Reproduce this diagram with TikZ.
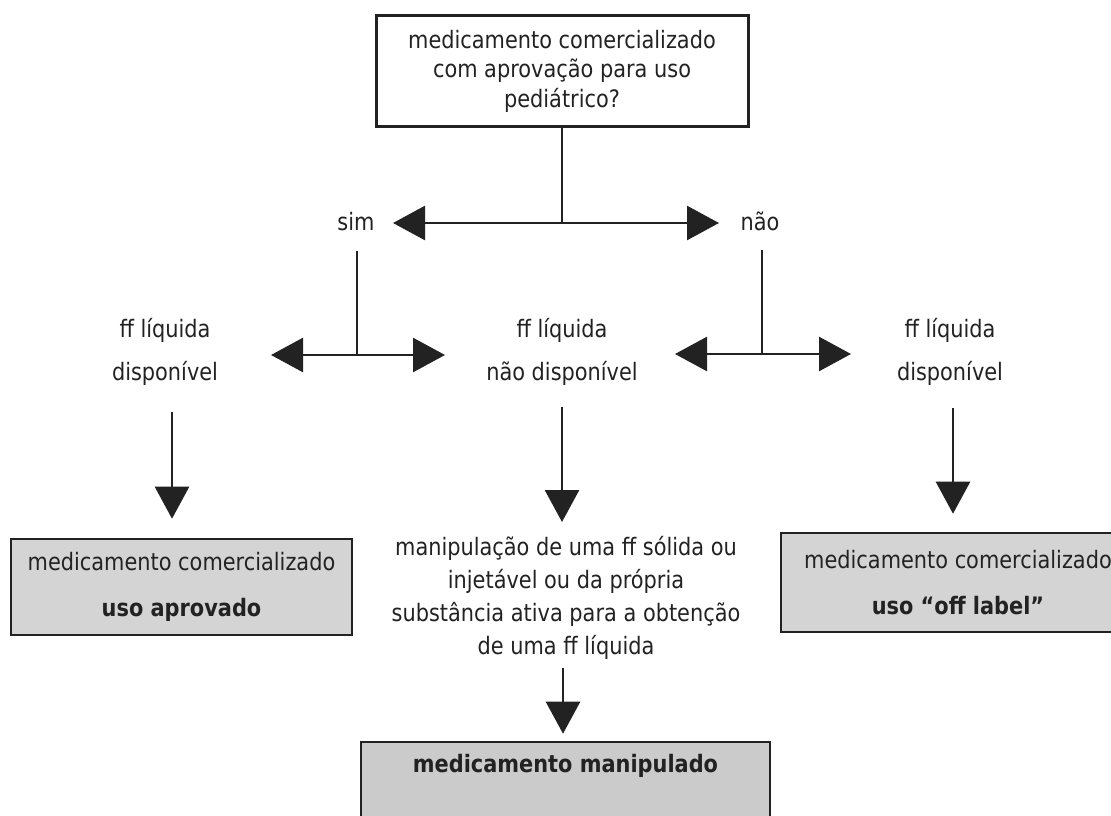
\documentclass[tikz,border=0pt]{standalone}
\usepackage{fontspec}
\setmainfont{DejaVu Sans}[FakeStretch=0.87]
\usetikzlibrary{arrows.meta}
\definecolor{ink}{HTML}{222222}
\definecolor{boxgray}{HTML}{D4D4D4}
\definecolor{boxgraydk}{HTML}{CBCBCB}
\tikzset{
  conn/.style={draw=ink, line width=2.6pt},
  arr/.style={conn, -{Triangle[length=32pt,width=34pt]}},
  txt/.style={text=ink, align=center, inner sep=0pt},
  ftxt/.style={txt, font=\fontsize{24}{43}\selectfont},
  qbox/.style={txt, font=\fontsize{24}{29.5}\selectfont, draw=ink, line width=3pt, fill=white},
  rbox/.style={txt, font=\fontsize{24}{46}\selectfont, draw=ink, line width=2.6pt, fill=boxgray},
  mbox/.style={txt, font=\fontsize{24}{29}\selectfont\bfseries, draw=ink, line width=2.6pt, fill=boxgraydk},
}
\begin{document}
\begin{tikzpicture}[x=1pt,y=-1pt]
\useasboundingbox (0,0) rectangle (1111,816);
\fill[white] (0,0) rectangle (1111,816);

% question box
\node[qbox, minimum width=372pt, minimum height=110pt] (q) at (562,71)
  {medicamento comercializado\\com aprovação para uso\\pediátrico?};

% first split
\coordinate (j1) at (562,223);
\coordinate (t1l) at (393,223);
\coordinate (t1r) at (719,223);
\node[txt, font=\fontsize{24}{29}\selectfont, anchor=base] (sim) at (356,230) {sim};
\node[txt, font=\fontsize{24}{29}\selectfont, anchor=base] (nao) at (760,230) {não};
\draw[conn] (q.south) -- (j1);
\draw[arr] (j1) -- (t1l);
\draw[arr] (j1) -- (t1r);

% second level splits
\coordinate (v1) at (357,251);
\coordinate (j2) at (357,355);
\coordinate (t2l) at (271,355);
\coordinate (t2r) at (445,355);
\draw[conn] (v1) -- (j2);
\draw[arr] (j2) -- (t2l);
\draw[arr] (j2) -- (t2r);

\coordinate (v2) at (762,250);
\coordinate (j3) at (762,354);
\coordinate (t3l) at (675,354);
\coordinate (t3r) at (851,354);
\draw[conn] (v2) -- (j3);
\draw[arr] (j3) -- (t3l);
\draw[arr] (j3) -- (t3r);

% second level labels
\node[ftxt] (ldisp) at (165,352) {ff líquida\\disponível};
\node[ftxt] (cndisp) at (562,352) {ff líquida\\não disponível};
\node[ftxt] (rdisp) at (950,352) {ff líquida\\disponível};

% outcome boxes
\node[rbox, minimum width=341pt, minimum height=96pt] (lbox) at (181.5,587)
  {medicamento comercializado\\\textbf{uso aprovado}};
\node[rbox, minimum width=354pt, minimum height=99pt] (rbox) at (958,582.5)
  {medicamento comercializado\\\textbf{uso “off label”}};
\node[txt, font=\fontsize{24}{33}\selectfont] (manip) at (566,598)
  {manipulação de uma ff sólida ou\\injetável ou da própria\\substância ativa para a obtenção\\de uma ff líquida};
\node[mbox, minimum width=409pt, minimum height=80pt, text height=20pt, text depth=40pt] (mbox) at (565.5,782)
  {medicamento manipulado};

% down arrows
\coordinate (d1) at (172,412);
\draw[arr, shorten >=19pt] (d1) -- (d1 |- lbox.north);
\coordinate (d2) at (562,407);
\coordinate (d2e) at (562,522);
\draw[arr] (d2) -- (d2e);
\coordinate (d3) at (953,408);
\draw[arr, shorten >=18pt] (d3) -- (d3 |- rbox.north);
\coordinate (d4) at (563,668);
\draw[arr, shorten >=7pt] (d4) -- (d4 |- mbox.north);
\end{tikzpicture}
\end{document}
